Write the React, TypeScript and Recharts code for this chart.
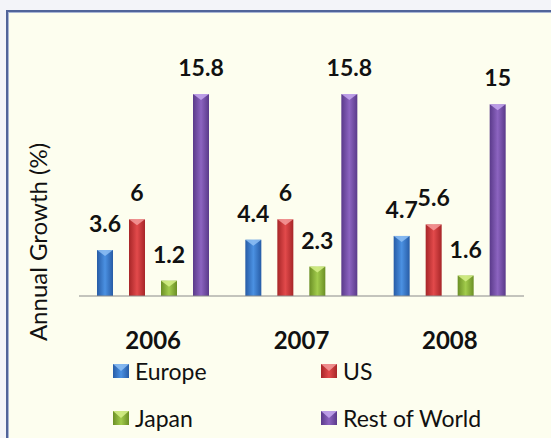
import { Bar, BarChart, LabelList, Legend, XAxis, YAxis } from 'recharts';

const years = ['2006', '2007', '2008'];
const europe = [3.6, 4.4, 4.7];
const us = [6, 6, 5.6];
const japan = [1.2, 2.3, 1.6];
const restOfWorld = [15.8, 15.8, 15];

const series = [
  { key: 'europe', name: 'Europe', edge: '#275ca6', mid: '#4b91e2', light: '#8ec0f5' },
  { key: 'us', name: 'US', edge: '#a72628', mid: '#e24a4b', light: '#f59a9a' },
  { key: 'japan', name: 'Japan', edge: '#6b8f25', mid: '#a2cc4c', light: '#d6f08a' },
  { key: 'rest', name: 'Rest of World', edge: '#5a3a8a', mid: '#8c64c0', light: '#c6a8ee' }
];

const data = years.map((year, i) => ({
  year,
  europe: europe[i],
  us: us[i],
  japan: japan[i],
  rest: restOfWorld[i]
}));

const font = 'Lato, "Open Sans", sans-serif';

function bevelBar(key: string, light: string) {
  return (props: any) => {
    const { x, y, width, height } = props;
    if (!height || height <= 0) return <g />;
    const t = Math.min(6, height / 2);
    return (
      <g>
        <rect x={x} y={y} width={width} height={height} fill={`url(#grad-${key})`} />
        <path d={`M${x},${y} L${x + width},${y} L${x + width / 2},${y + t} Z`} fill={light} opacity={0.85} />
      </g>
    );
  };
}

function Marker({ s }: { s: (typeof series)[number] }) {
  return (
    <svg width={16} height={14} style={{ display: 'block' }}>
      <defs>
        <linearGradient id={`lg-${s.key}`} x1="0" y1="0" x2="1" y2="0">
          <stop offset="0%" stopColor={s.edge} />
          <stop offset="50%" stopColor={s.mid} />
          <stop offset="100%" stopColor={s.edge} />
        </linearGradient>
      </defs>
      <rect x={0} y={0} width={16} height={14} fill={`url(#lg-${s.key})`} />
      <path d="M0,0 L16,0 L8,7 Z" fill={s.light} opacity={0.85} />
    </svg>
  );
}

function LegendBox() {
  return (
    <div
      style={{
        display: 'grid',
        gridTemplateColumns: '208px auto',
        rowGap: 20,
        paddingLeft: 113,
        paddingTop: 357,
        fontFamily: font,
        fontSize: 23,
        color: '#111'
      }}
    >
      {series.map((s) => (
        <div key={s.key} style={{ display: 'flex', alignItems: 'center', height: 27 }}>
          <Marker s={s} />
          <span style={{ marginLeft: 6 }}>{s.name}</span>
        </div>
      ))}
    </div>
  );
}

export default function App() {
  return (
    <div style={{ position: 'absolute', left: 0, top: 0, width: 551, height: 438, background: '#f3f4f9', overflow: 'hidden' }}>
      <div
        style={{
          position: 'absolute',
          left: 6,
          top: 10,
          width: 560,
          height: 440,
          background: '#fdfeef',
          borderLeft: '2px solid #51649a',
          borderTop: '2px solid #51649a',
          boxShadow: 'inset 1px 1px 0 #a9b6d6'
        }}
      />
      <div style={{ position: 'absolute', left: 0, top: 0 }}>
        <BarChart
          width={551}
          height={438}
          data={data}
          margin={{ top: 66, right: 27, left: 0, bottom: 112 }}
          barSize={16}
          barGap={16}
        >
          <defs>
            {series.map((s) => (
              <linearGradient key={s.key} id={`grad-${s.key}`} x1="0" y1="0" x2="1" y2="0">
                <stop offset="0%" stopColor={s.edge} />
                <stop offset="50%" stopColor={s.mid} />
                <stop offset="100%" stopColor={s.edge} />
              </linearGradient>
            ))}
          </defs>
          <XAxis
            dataKey="year"
            tickLine={false}
            axisLine={{ stroke: '#8a8a8a' }}
            tickMargin={30}
            tick={{ fill: '#111', fontFamily: font, fontSize: 24, fontWeight: 700 }}
          />
          <YAxis
            width={79}
            domain={[0, 18]}
            axisLine={false}
            tickLine={false}
            tick={false}
            label={{
              value: 'Annual Growth (%)',
              angle: -90,
              position: 'insideLeft',
              content: () => (
                <text
                  x={37}
                  y={242}
                  transform="rotate(-90 37 242)"
                  textAnchor="middle"
                  dominantBaseline="central"
                  fontFamily={font}
                  fontSize={24}
                  fill="#111"
                >
                  Annual Growth (%)
                </text>
              )
            }}
          />
          <Legend
            layout="horizontal"
            verticalAlign="middle"
            align="center"
            wrapperStyle={{ top: 0, left: 0, width: 551 }}
            content={() => <LegendBox />}
          />
          {series.map((s) => (
            <Bar
              key={s.key}
              dataKey={s.key}
              name={s.name}
              fill={s.mid}
              isAnimationActive={false}
              shape={bevelBar(s.key, s.light)}
            >
              <LabelList
                dataKey={s.key}
                position="top"
                offset={18}
                fill="#111"
                fontFamily={font}
                fontSize={23}
                fontWeight={700}
              />
            </Bar>
          ))}
        </BarChart>
      </div>
    </div>
  );
}
